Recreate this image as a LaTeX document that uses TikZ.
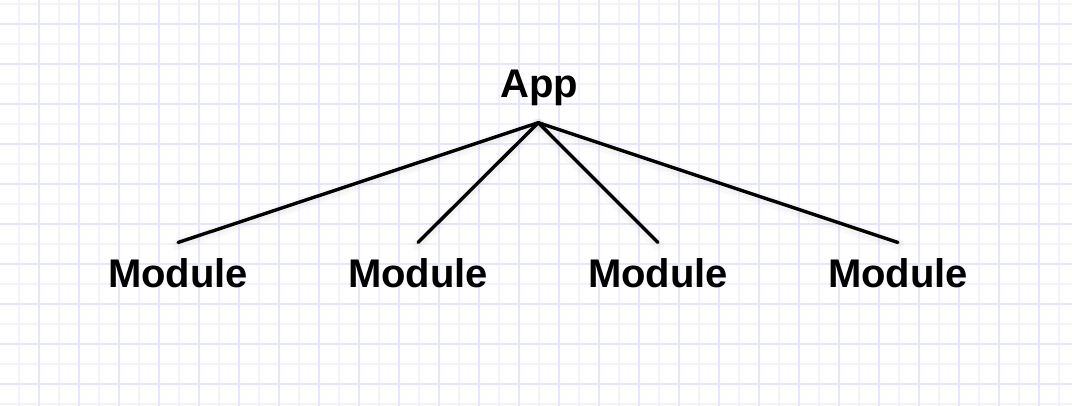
\documentclass[tikz,border=0pt]{standalone}
\usepackage{fontspec}
\setmainfont{Liberation Sans}
\definecolor{gridmajor}{RGB}{229,229,251}
\definecolor{gridminor}{RGB}{242,242,253}
\begin{document}
\begin{tikzpicture}[x=1pt,y=-1pt,
  lbl/.style={inner sep=0pt,outer sep=0pt,anchor=base,font=\fontsize{40}{42}\selectfont\bfseries},
  edge/.style={line width=3.4pt,black,line cap=round},
  glow/.style={line width=12pt,black!40,opacity=0.05,line cap=round},
  glowb/.style={line width=6pt,black!40,opacity=0.06,line cap=round}]
\useasboundingbox (0,0) rectangle (1072,406);
\fill[white] (0,0) rectangle (1072,406);
% grid
\foreach \x in {19,59,...,1059} \draw[gridminor,line width=1.6pt] (\x,0) -- (\x,406);
\foreach \y in {4,44,...,404} \draw[gridminor,line width=1.6pt] (0,\y) -- (1072,\y);
\foreach \x in {39,79,...,1039} \draw[gridmajor,line width=1.6pt] (\x,0) -- (\x,406);
\foreach \y in {24,64,...,384} \draw[gridmajor,line width=1.6pt] (0,\y) -- (1072,\y);
% labels
\node[lbl] (app) at (539,98) {App};
\node[lbl] (m1) at (178,288) {Module};
\node[lbl] (m2) at (418,288) {Module};
\node[lbl] (m3) at (658,288) {Module};
\node[lbl] (m4) at (898,288) {Module};
\coordinate (apex) at (538.3,122.7);
\foreach \m in {m1,m2,m3,m4} {
  \draw[glow] ([yshift=-2pt]apex) -- ([yshift=14.5pt]\m.north);
  \draw[glowb] ([yshift=-2pt]apex) -- ([yshift=14.5pt]\m.north);
}
\foreach \m in {m1,m2,m3,m4}
  \draw[edge] (apex) -- ([yshift=16.5pt]\m.north);
\end{tikzpicture}
\end{document}
